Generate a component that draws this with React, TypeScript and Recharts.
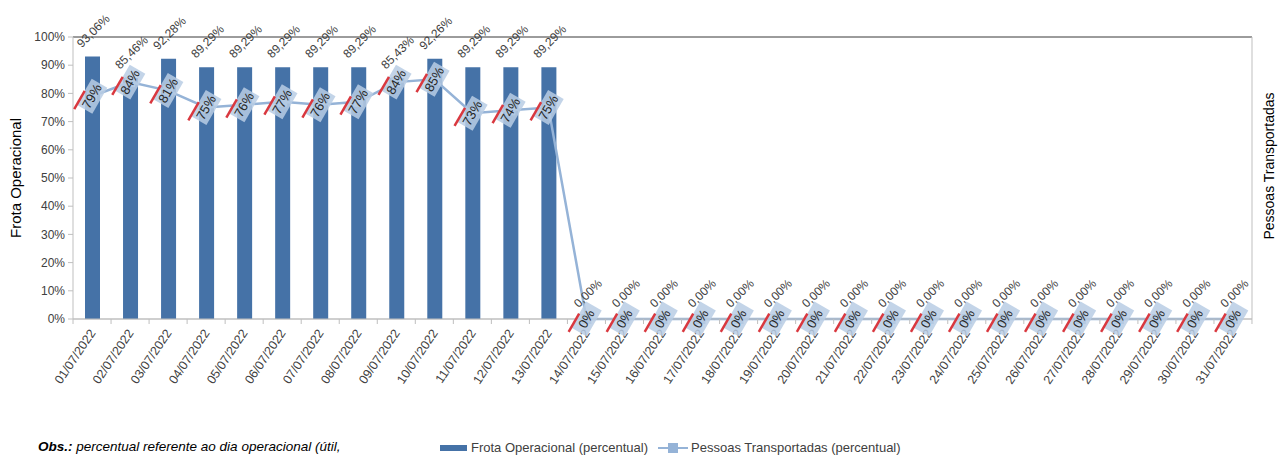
import React from 'react';
import {
  ComposedChart, Bar, Line, XAxis, YAxis, CartesianGrid, LabelList, ReferenceLine,
} from 'recharts';

const dates = [
  '01/07/2022', '02/07/2022', '03/07/2022', '04/07/2022', '05/07/2022', '06/07/2022',
  '07/07/2022', '08/07/2022', '09/07/2022', '10/07/2022', '11/07/2022', '12/07/2022',
  '13/07/2022', '14/07/2022', '15/07/2022', '16/07/2022', '17/07/2022', '18/07/2022',
  '19/07/2022', '20/07/2022', '21/07/2022', '22/07/2022', '23/07/2022', '24/07/2022',
  '25/07/2022', '26/07/2022', '27/07/2022', '28/07/2022', '29/07/2022', '30/07/2022',
  '31/07/2022',
];

const frota = [
  93.06, 85.46, 92.28, 89.29, 89.29, 89.29, 89.29, 89.29, 85.43, 92.26, 89.29, 89.29, 89.29,
  0, 0, 0, 0, 0, 0, 0, 0, 0, 0, 0, 0, 0, 0, 0, 0, 0, 0,
];

const pessoas = [
  79, 84, 81, 75, 76, 77, 76, 77, 84, 85, 73, 74, 75,
  0, 0, 0, 0, 0, 0, 0, 0, 0, 0, 0, 0, 0, 0, 0, 0, 0, 0,
];

const yTicks = [0, 10, 20, 30, 40, 50, 60, 70, 80, 90, 100];

const data = dates.map((d, i) => ({ date: d, frota: frota[i], pessoas: pessoas[i] }));

const FONT = '"Liberation Sans", Arial, sans-serif';
const TEXT = '#404040';
const BAR = '#4572A7';
const LINE = '#95B3D7';
const BAND = 38;

const DateTick = (props: any) => {
  const { x, y, payload, index } = props;
  return (
    <g>
      <line x1={x - BAND / 2} y1={y} x2={x - BAND / 2} y2={y + 5} stroke="#BFBFBF" />
      {index === dates.length - 1 && (
        <line x1={x + BAND / 2} y1={y} x2={x + BAND / 2} y2={y + 5} stroke="#BFBFBF" />
      )}
      <text
        x={x + 4}
        y={y + 14}
        transform={`rotate(-56 ${x + 4} ${y + 14})`}
        textAnchor="end"
        fontSize={12.5}
        fontFamily={FONT}
        fill={TEXT}
      >
        {payload.value}
      </text>
    </g>
  );
};

// labels for the bars, drawn from an invisible line on the same axis so zero bars get one too
const BarValue = (props: any) => {
  const { x, y, value } = props;
  const cx = x + 2;
  const cy = y - 25;
  return (
    <text
      x={cx}
      y={cy}
      transform={`rotate(-45 ${cx} ${cy})`}
      textAnchor="middle"
      dominantBaseline="middle"
      fontSize={12}
      fontFamily={FONT}
      fill={TEXT}
    >
      {value.toFixed(2).replace('.', ',') + '%'}
    </text>
  );
};

const LineValue = (props: any) => {
  const { x, y, value } = props;
  return (
    <g transform={`translate(${x} ${y}) rotate(-60)`}>
      <rect x={-15} y={-9} width={30} height={18} fill="#B8CCE4" opacity={0.85} />
      <line x1={-20} y1={-9} x2={1} y2={-9} stroke="#D9383F" strokeWidth={2.5} />
      <text
        x={0}
        y={1}
        textAnchor="middle"
        dominantBaseline="middle"
        fontSize={13}
        fontFamily={FONT}
        fill="#262626"
      >
        {value + '%'}
      </text>
    </g>
  );
};

const SquareDot = (props: any) => {
  const { cx, cy, index } = props;
  return <rect key={`dot-${index}`} x={cx - 5} y={cy - 5} width={10} height={10} fill={LINE} />;
};

const LeftTitle = (props: any) => {
  const { viewBox } = props;
  const x = viewBox.x + 17;
  const y = viewBox.y + viewBox.height / 2;
  return (
    <text x={x} y={y} transform={`rotate(-90 ${x} ${y})`} textAnchor="middle"
      dominantBaseline="middle" fontSize={15} fontFamily={FONT} fill="#000">
      Frota Operacional
    </text>
  );
};

const RightTitle = (props: any) => {
  const { viewBox } = props;
  const x = viewBox.x + 18;
  const y = viewBox.y + viewBox.height / 2 - 12;
  return (
    <text x={x} y={y} transform={`rotate(-90 ${x} ${y})`} textAnchor="middle"
      dominantBaseline="middle" fontSize={14} fontFamily={FONT} fill="#000">
      Pessoas Transportadas
    </text>
  );
};

export default function App() {
  return (
    <div style={{ position: 'absolute', left: 0, top: 0, width: 1285, height: 455, background: '#fff', overflow: 'hidden' }}>
      <ComposedChart
        width={1285}
        height={455}
        data={data}
        margin={{ top: 37, right: 0, bottom: 0, left: 0 }}
      >
        <CartesianGrid vertical={false} stroke="#BFBFBF" />
        <XAxis
          dataKey="date"
          interval={0}
          height={136}
          tickLine={false}
          tickSize={0}
          tickMargin={0}
          axisLine={{ stroke: '#BFBFBF' }}
          tick={<DateTick />}
        />
        <YAxis
          yAxisId="left"
          width={73}
          domain={[0, 100]}
          ticks={yTicks}
          tickFormatter={(v: number) => `${v}%`}
          tick={{ fontSize: 12, fontFamily: FONT, fill: TEXT }}
          tickLine={{ stroke: '#BFBFBF' }}
          tickSize={5}
          tickMargin={3}
          axisLine={{ stroke: '#BFBFBF' }}
          label={<LeftTitle />}
        />
        <YAxis
          yAxisId="right"
          orientation="right"
          width={33}
          domain={[0, 100]}
          ticks={yTicks}
          tick={false}
          tickLine={false}
          axisLine={{ stroke: '#BFBFBF' }}
          label={<RightTitle />}
        />
        <ReferenceLine yAxisId="left" y={100} stroke="#595959" />
        <Bar yAxisId="left" dataKey="frota" fill={BAR} barSize={15} isAnimationActive={false} />
        <Line
          yAxisId="left"
          dataKey="frota"
          stroke="none"
          dot={false}
          activeDot={false}
          legendType="none"
          isAnimationActive={false}
        >
          <LabelList dataKey="frota" content={<BarValue />} />
        </Line>
        <Line
          yAxisId="right"
          dataKey="pessoas"
          stroke={LINE}
          strokeWidth={2.5}
          dot={SquareDot}
          activeDot={false}
          isAnimationActive={false}
        >
          <LabelList dataKey="pessoas" content={<LineValue />} />
        </Line>
      </ComposedChart>
      <div style={{ position: 'absolute', left: 38, top: 439, fontFamily: FONT, fontSize: 13.5, fontStyle: 'italic', color: '#000', whiteSpace: 'nowrap' }}>
        <b>Obs.:</b> percentual referente ao dia operacional (útil,
      </div>
      <div style={{ position: 'absolute', left: 440, top: 440, fontFamily: FONT, fontSize: 13, color: TEXT, whiteSpace: 'nowrap', display: 'flex', alignItems: 'center' }}>
        <span style={{ display: 'inline-block', width: 27, height: 6, background: BAR, marginRight: 4 }} />
        <span>Frota Operacional (percentual)</span>
        <span style={{ display: 'inline-block', position: 'relative', width: 30, height: 10, marginLeft: 10, marginRight: 3 }}>
          <span style={{ position: 'absolute', left: 0, top: 4, width: 30, height: 2.5, background: LINE }} />
          <span style={{ position: 'absolute', left: 10, top: 0, width: 10, height: 10, background: LINE }} />
        </span>
        <span>Pessoas Transportadas (percentual)</span>
      </div>
    </div>
  );
}
